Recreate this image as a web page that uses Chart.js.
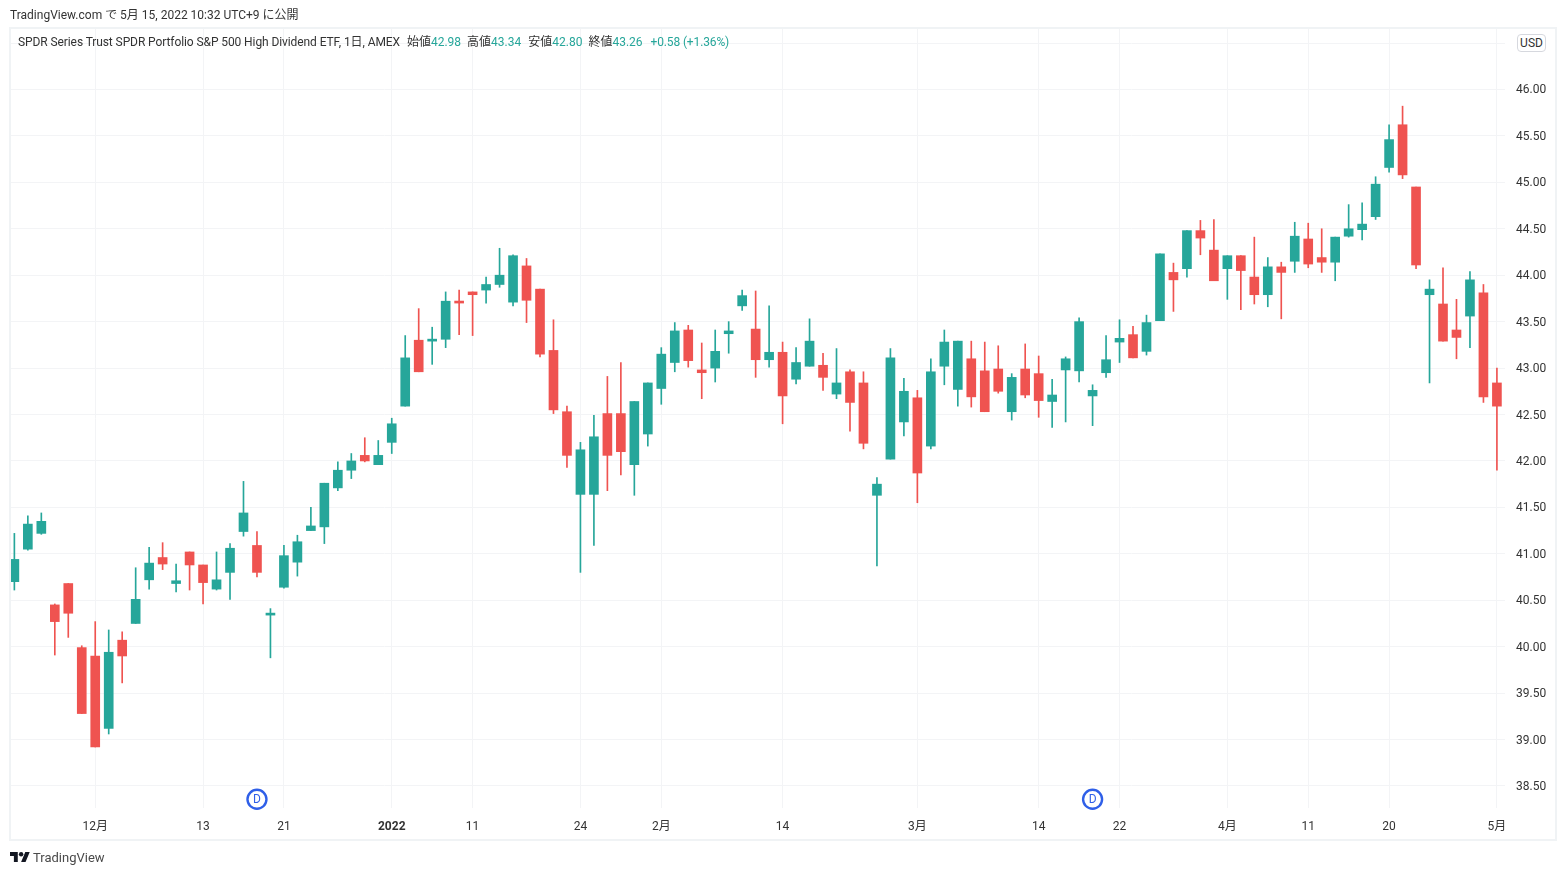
<!DOCTYPE html>
<html lang="ja">
<head>
<meta charset="utf-8">
<title>SPDR Portfolio S&P 500 High Dividend ETF</title>
<script src="https://cdn.jsdelivr.net/npm/chart.js@4/dist/chart.umd.min.js"></script>
<style>
html,body{margin:0;padding:0;background:#fff;width:1566px;height:875px;overflow:hidden}
body{font-family:Roboto,"Noto Sans CJK JP",sans-serif;color:#131722}
#c{position:absolute;left:0;top:0}
.frame{position:absolute;left:9px;top:27px;width:1544px;height:810px;border:2px solid #f0f3f5;pointer-events:none}
.t{position:absolute;white-space:nowrap;font-size:12px;line-height:16px}
.g{color:#26a69a}
.usd{position:absolute;left:1517px;top:34px;width:27px;height:16px;border:1px solid #d6d8de;border-radius:4px;background:#fff;text-align:center;font-size:12px;line-height:16px;color:#333}
.logo{position:absolute;left:10px;top:852px}
</style>
</head>
<body>
<canvas id="c" width="1566" height="875"></canvas>
<div class="frame"></div>
<div class="t" style="left:10px;top:7px;color:#333">TradingView.com で 5月 15, 2022 10:32 UTC+9 に公開</div>
<div class="t" style="left:18px;top:34px;color:#333"><span style="letter-spacing:-0.09px">SPDR Series Trust SPDR Portfolio S&amp;P 500 High Dividend ETF, 1日, AMEX</span><span style="margin-left:7px">始値</span><span class="g">42.98</span><span style="margin-left:6px">高値</span><span class="g">43.34</span><span style="margin-left:7px">安値</span><span class="g">42.80</span><span style="margin-left:6px">終値</span><span class="g">43.26</span><span class="g" style="margin-left:8px;letter-spacing:-0.14px">+0.58 (+1.36%)</span></div>
<div class="usd">USD</div>
<svg class="logo" width="20" height="10" viewBox="0 4 36 18" preserveAspectRatio="none"><path fill="#131722" d="M14 22H7V11H0V4h14v18zM28 22h-8l7.5-18h8L28 22z"/><circle fill="#131722" cx="20" cy="8" r="4"/></svg>
<div class="t" style="left:33px;top:850px;font-size:13px;color:#4a4a4a">TradingView</div>
<script>
const opens=[40.70,41.05,41.22,40.45,40.68,39.99,39.90,39.12,40.07,40.25,40.72,40.96,40.68,41.02,40.88,40.62,40.80,41.24,41.09,40.34,40.64,40.91,41.25,41.29,41.71,41.90,42.06,41.96,42.20,42.59,43.30,43.29,43.31,43.72,43.82,43.84,43.90,43.71,44.10,43.85,43.19,42.53,41.64,41.64,42.51,42.51,41.96,42.29,42.78,43.06,43.41,42.98,43.00,43.37,43.67,43.42,43.09,43.17,42.88,43.02,43.03,42.72,42.96,42.84,41.63,42.02,42.42,42.68,42.16,43.02,42.77,43.10,42.97,42.99,42.53,42.99,42.94,42.64,42.98,42.97,42.70,42.95,43.28,43.36,43.18,43.51,44.03,44.07,44.48,44.27,44.07,44.21,43.98,43.79,44.09,44.15,44.39,44.19,44.14,44.42,44.49,44.63,45.16,45.62,44.95,43.79,43.69,43.41,43.56,43.81,42.84];
const highs=[41.22,41.41,41.44,40.46,40.68,40.01,40.27,40.18,40.16,40.85,41.07,41.12,40.89,41.02,40.88,41.02,41.11,41.78,41.24,40.41,41.09,41.20,41.50,41.76,41.99,42.08,42.25,42.22,42.46,43.35,43.64,43.44,43.82,43.84,43.82,43.98,44.29,44.22,44.18,43.85,43.52,42.59,42.20,42.49,42.91,43.06,42.64,42.84,43.22,43.49,43.46,43.27,43.41,43.50,43.84,43.83,43.67,43.28,43.22,43.53,43.16,43.21,42.98,42.96,41.82,43.21,42.89,42.76,43.10,43.41,43.29,43.29,43.28,43.24,42.94,43.26,43.13,42.88,43.12,43.54,42.82,43.35,43.52,43.45,43.57,44.23,44.13,44.48,44.59,44.60,44.21,44.21,44.41,44.19,44.14,44.57,44.56,44.50,44.41,44.76,44.78,45.06,45.62,45.82,44.95,43.95,44.08,43.74,44.04,43.90,43.00];
const lows=[40.61,41.04,41.21,39.91,40.10,39.28,38.92,39.06,39.61,40.25,40.62,40.83,40.59,40.61,40.46,40.61,40.51,41.19,40.75,39.88,40.63,40.76,41.25,41.11,41.68,41.81,41.99,41.96,42.08,42.59,42.96,43.04,43.22,43.36,43.35,43.70,43.87,43.67,43.49,43.12,42.51,41.93,40.80,41.09,41.68,41.85,41.63,42.16,42.61,42.96,43.01,42.67,42.85,43.16,43.62,42.90,43.01,42.40,42.83,43.02,42.76,42.67,42.32,42.13,40.87,42.02,42.27,41.55,42.13,42.82,42.59,42.58,42.53,42.73,42.44,42.68,42.47,42.36,42.42,42.85,42.38,42.90,43.06,43.11,43.14,43.51,43.61,43.98,44.22,43.94,43.74,43.63,43.69,43.66,43.53,44.03,44.08,44.03,43.94,44.41,44.38,44.60,45.11,45.04,44.07,42.84,43.29,43.10,43.22,42.63,41.90];
const closes=[40.94,41.32,41.35,40.27,40.36,39.28,38.92,39.94,39.90,40.51,40.90,40.89,40.71,40.88,40.69,40.72,41.06,41.44,40.80,40.36,40.98,41.13,41.30,41.76,41.90,42.00,42.00,42.06,42.40,43.11,42.96,43.31,43.72,43.70,43.79,43.90,44.00,44.21,43.73,43.15,42.55,42.06,42.12,42.26,42.06,42.10,42.64,42.84,43.15,43.40,43.08,42.95,43.18,43.40,43.78,43.09,43.17,42.70,43.06,43.29,42.90,42.84,42.63,42.19,41.75,43.11,42.75,41.87,42.96,43.28,43.29,42.69,42.53,42.75,42.90,42.71,42.65,42.71,43.10,43.50,42.76,43.09,43.32,43.11,43.49,44.23,43.95,44.48,44.40,43.94,44.21,44.05,43.79,44.09,44.03,44.42,44.12,44.14,44.41,44.50,44.55,44.98,45.46,45.08,44.11,43.85,43.29,43.33,43.95,42.69,42.59];
const tickIndex=[6,14,20,28,34,42,48,57,67,76,82,90,96,102,110];
const tickLabels=["12月","13","21","2022","11","24","2月","14","3月","14","22","4月","11","20","5月"];
const dividendIndex=[18,80];
const UP="#26a69a",DOWN="#ef5350",GRID="#f3f4f6",BLUE="#2f5fe8";
const colors=opens.map((o,i)=>closes[i]>=o?UP:DOWN);
const FONT='Roboto,"Noto Sans CJK JP",sans-serif';
const dividends={id:"dividends",
  beforeDraw(ch){
    ch.scales.y.getLabelItems().forEach(it=>{it.options.translation[1]+=1;});
  },
  afterDatasetsDraw(ch){
  const {ctx,scales:{x},chartArea:a}=ch;
  dividendIndex.forEach(i=>{
    const px=x.getPixelForValue(i),py=a.bottom-8.7;
    ctx.save();
    ctx.beginPath();ctx.arc(px,py,9.5,0,Math.PI*2);
    ctx.fillStyle="#fff";ctx.fill();
    ctx.lineWidth=2.4;ctx.strokeStyle=BLUE;ctx.stroke();
    ctx.fillStyle=BLUE;ctx.font="12px "+FONT;ctx.textAlign="center";ctx.textBaseline="middle";
    ctx.fillText("D",px,py+0.5);
    ctx.restore();
  });
}};
new Chart(document.getElementById("c"),{
  type:"bar",
  data:{datasets:[
    {label:"実体",data:opens.map((o,i)=>({x:i,y:[o,closes[i]]})),backgroundColor:colors,barThickness:9,grouped:false,borderWidth:0},
    {label:"ヒゲ",data:lows.map((l,i)=>({x:i,y:[l,highs[i]]})),backgroundColor:colors,barThickness:1,grouped:false,borderWidth:0}
  ]},
  plugins:[dividends],
  options:{
    responsive:false,animation:false,
    layout:{padding:{left:11,top:29,right:11,bottom:35}},
    plugins:{legend:{display:false},tooltip:{enabled:false}},
    datasets:{bar:{minBarLength:2}},
    scales:{
      x:{type:"linear",offset:false,min:-0.25,max:110.6,
        grid:{offset:false,color:GRID,lineWidth:1,drawTicks:false},border:{display:false},
        afterBuildTicks(s){s.ticks=tickIndex.map(v=>({value:v}));},
        afterFit(s){s.height=32;},
        ticks:{autoSkip:false,maxRotation:0,padding:12,color:"#333",
          font:c=>({size:12,family:FONT,weight:c.tick&&c.tick.label==="2022"?"bold":"normal"}),
          callback(v){return tickLabels[tickIndex.indexOf(v)];}}},
      y:{type:"linear",position:"right",min:38.263,max:46.651,
        grid:{color:GRID,lineWidth:1,drawTicks:false},border:{display:false},
        afterFit(s){s.width=50;},
        ticks:{stepSize:0.5,includeBounds:false,padding:11,color:"#333",font:{size:12,family:FONT},
          callback(v){return v>46.4?"":v.toFixed(2);}}}
    }
  }
});
</script>
</body>
</html>
